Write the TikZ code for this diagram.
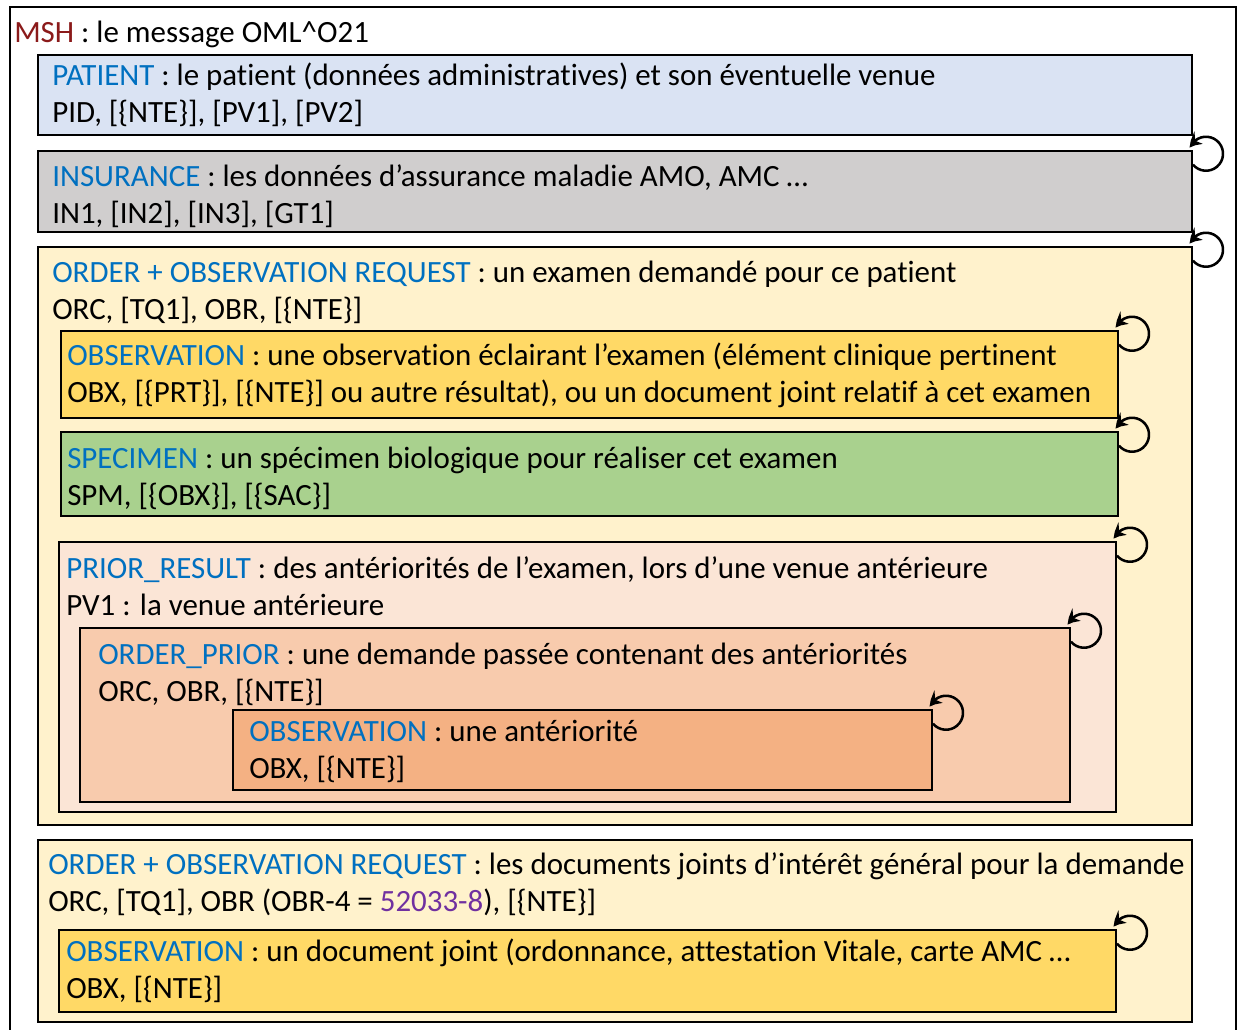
\documentclass[tikz,border=0pt]{standalone}
\usepackage{fontspec}
\setmainfont[Ligatures=NoCommon]{Carlito}
\usepackage{xcolor}
\usetikzlibrary{fit, arrows.meta, bending}
\definecolor{cKEY}{HTML}{0070C0}
\definecolor{cMSH}{HTML}{8B1A1A}
\definecolor{cCODE}{HTML}{7030A0}
\definecolor{cPAT}{HTML}{DAE3F3}
\definecolor{cINS}{HTML}{D0CECE}
\definecolor{cORD}{HTML}{FFF2CC}
\definecolor{cOBS}{HTML}{FFD966}
\definecolor{cSPM}{HTML}{A9D18E}
\definecolor{cPRI}{HTML}{FBE5D6}
\definecolor{cOPR}{HTML}{F8CBAD}
\definecolor{cOBA}{HTML}{F4B183}
\tikzset{
  segbox/.style={
    draw=black, line width=1.5pt,
    fill=#1,
    inner sep=0pt
  },
  segtext/.style={
    anchor=base west,
    inner sep=0pt,
    text=black,
    font=\fontsize{23.2}{27.75}\selectfont
  },
  reploop/.style={
    -{Stealth[length=10pt,width=11pt,bend]},
    line width=1.9pt
  }
}
\newcommand{\seg}[3]{%
  \begin{tabular}[t]{@{}l@{}}%
    {\color{cKEY}#1} : #2\\%
    #3%
  \end{tabular}%
}

\begin{document}
\begin{tikzpicture}[x=0.75pt, y=-0.75pt]
  \useasboundingbox (0,0) rectangle (1239,1030);
  \node[draw=black, line width=1.2pt, fill=white, inner sep=0pt, fit={(10,7) (1236,1045)}] (msh) {};
  \node[segtext] (mshT) at (14,43) {{\color{cMSH}MSH} : le message OML\textasciicircum O21};

  % patient + insurance
  \node[segbox=cPAT, fit={(38,55) (1192,135)}] (pat) {};
  \node[segtext] (patT) at (52,86) {\seg{PATIENT}{le patient (données administratives) et son éventuelle venue}{PID, [\{NTE\}], [PV1], [PV2]}};
  \node[segbox=cINS, fit={(38,151) (1192,232)}] (ins) {};
  \node[segtext] (insT) at (52,187) {\seg{INSURANCE}{les données d’assurance maladie AMO, AMC …}{IN1, [IN2], [IN3], [GT1]}};

  % order group
  \node[segbox=cORD, fit={(38,247) (1192,825)}] (ord) {};
  \node[segtext] (ordT) at (52,283) {\seg{ORDER + OBSERVATION REQUEST}{un examen demandé pour ce patient}{ORC, [TQ1], OBR, [\{NTE\}]}};
  \node[segbox=cOBS, fit={(61,331) (1118,418)}] (obs) {};
  \node[segtext] (obsT) at (67,366) {\seg{OBSERVATION}{une observation éclairant l’examen (élément clinique pertinent}{OBX, [\{PRT\}], [\{NTE\}] ou autre résultat), ou un document joint relatif à cet examen}};
  \node[segbox=cSPM, fit={(61,432) (1118,516)}] (spm) {};
  \node[segtext] (spmT) at (67,469) {\seg{SPECIMEN}{un spécimen biologique pour réaliser cet examen}{SPM, [\{OBX\}], [\{SAC\}]}};
  \node[segbox=cPRI, fit={(59,542) (1116,812)}] (pri) {};
  \node[segtext] (priT) at (66,578) {\seg{PRIOR\_RESULT}{des antériorités de l’examen, lors d’une venue antérieure}{PV1 : la venue antérieure}};
  \node[segbox=cOPR, fit={(80,628) (1070,802)}] (opr) {};
  \node[segtext] (oprT) at (98,664) {\seg{ORDER\_PRIOR}{une demande passée contenant des antériorités}{ORC, OBR, [\{NTE\}]}};
  \node[segbox=cOBA, fit={(233,710) (932,790)}] (oba) {};
  \node[segtext] (obaT) at (249,741) {\seg{OBSERVATION}{une antériorité}{OBX, [\{NTE\}]}};

  % attached documents
  \node[segbox=cORD, fit={(38,840) (1192,1022)}] (ordb) {};
  \node[segtext] (ordbT) at (48,874) {\seg{ORDER + OBSERVATION REQUEST}{les documents joints d’intérêt général pour la demande}{ORC, [TQ1], OBR (OBR-4 = {\color{cCODE}52033-8}), [\{NTE\}]}};
  \node[segbox=cOBS, fit={(59,930) (1116,1012)}] (obd) {};
  \node[segtext] (obdT) at (66,961) {\seg{OBSERVATION}{un document joint (ordonnance, attestation Vitale, carte AMC …}{OBX, [\{NTE\}]}};

  % repetitions
  \foreach \b in {ins, ord, obs, spm, pri, opr, oba, obd}
    \draw[reploop] ([yshift=-11pt]\b.north east) arc[start angle=-140, end angle=160, radius=12.75pt];
\end{tikzpicture}
\end{document}
